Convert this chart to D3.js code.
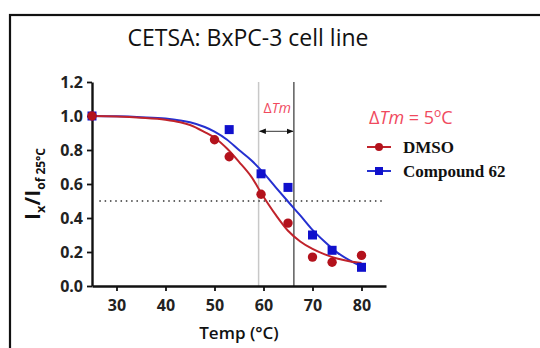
<!DOCTYPE html>
<html>
<head>
<meta charset="utf-8">
<script src="https://cdn.jsdelivr.net/npm/d3@7"></script>
<style>
  body { margin: 0; background: #fff; }
  svg { display: block; }
</style>
</head>
<body>
<div id="chart"></div>
<script>
// measured points
var dmsoTemp = [25, 50, 53, 59.5, 65, 70, 74, 80];
var dmsoVal = [1.0, 0.86, 0.76, 0.54, 0.37, 0.17, 0.14, 0.18];
var cpdTemp = [25, 53, 59.5, 65, 70, 74, 80];
var cpdVal = [1.0, 0.92, 0.66, 0.58, 0.30, 0.21, 0.11];

// fitted curves
var fitTemp = [25, 30, 35, 40, 43, 45, 48, 50, 52.5, 55, 57.5, 60, 62.5, 65, 67.5, 70, 72.5, 75, 77.5, 80];
var dmsoFit = [1.0, 0.997, 0.99, 0.978, 0.963, 0.947, 0.905, 0.872, 0.81, 0.73, 0.643, 0.525, 0.418, 0.325, 0.262, 0.218, 0.186, 0.162, 0.146, 0.135];
var cpdFit = [1.0, 0.998, 0.993, 0.985, 0.974, 0.963, 0.935, 0.908, 0.862, 0.80, 0.74, 0.665, 0.58, 0.497, 0.415, 0.33, 0.26, 0.198, 0.152, 0.115];

var xTicks = [30, 40, 50, 60, 70, 80];
var yTicks = [0, 0.2, 0.4, 0.6, 0.8, 1.0, 1.2];
var tmLines = [59, 66.2];  // Tm of DMSO and compound
var halfLevel = 0.5;
var arrowLevel = 0.91;

var W = 540, H = 348;
var svg = d3.select("#chart").append("svg")
    .attr("width", W).attr("height", H);

// outer frame
svg.append("rect")
    .attr("x", 10).attr("y", 15)
    .attr("width", 560).attr("height", 360)
    .attr("fill", "none").attr("stroke", "#111").attr("stroke-width", 2.2);

var x = d3.scaleLinear().domain([25, 85]).range([92, 386]);
var y = d3.scaleLinear().domain([0, 1.2]).range([286, 82]);

var red = "#b3121c", blue = "#1010cc";
var redLine = "#c0232b", blueLine = "#2530d0";
var pink = "#f04a5e";

// title
svg.append("text")
    .attr("x", 248).attr("y", 46)
    .attr("text-anchor", "middle")
    .style("font-family", "Open Sans")
    .style("font-size", "23px")
    .attr("fill", "#111")
    .text("CETSA: BxPC-3 cell line");

// reference lines
svg.append("line")
    .attr("x1", x(tmLines[0])).attr("x2", x(tmLines[0]))
    .attr("y1", y(1.2)).attr("y2", y(0))
    .attr("stroke", "#c8c8c8").attr("stroke-width", 1.5);
svg.append("line")
    .attr("x1", x(tmLines[1])).attr("x2", x(tmLines[1]))
    .attr("y1", y(1.2)).attr("y2", y(0))
    .attr("stroke", "#444").attr("stroke-width", 1.3);

svg.append("line")
    .attr("x1", x(26.5)).attr("x2", x(84.5))
    .attr("y1", y(halfLevel)).attr("y2", y(halfLevel))
    .attr("stroke", "#333").attr("stroke-width", 1.5)
    .attr("stroke-dasharray", "1.5,3.8");

// double arrow between the two Tm lines
var defs = svg.append("defs");
defs.append("marker").attr("id", "ah")
    .attr("viewBox", "0 0 10 10").attr("refX", 9).attr("refY", 5)
    .attr("markerWidth", 7).attr("markerHeight", 7)
    .attr("orient", "auto-start-reverse")
    .append("path").attr("d", "M0,1 L10,5 L0,9 Z").attr("fill", "#111");
svg.append("line")
    .attr("x1", x(tmLines[0]) + 1).attr("x2", x(tmLines[1]) - 1)
    .attr("y1", y(arrowLevel)).attr("y2", y(arrowLevel))
    .attr("stroke", "#333").attr("stroke-width", 1)
    .attr("marker-start", "url(#ah)").attr("marker-end", "url(#ah)");

var dtm = svg.append("text")
    .attr("x", (x(tmLines[0]) + x(tmLines[1])) / 2 + 1).attr("y", 113)
    .attr("text-anchor", "middle")
    .style("font-family", "Open Sans").style("font-size", "14px")
    .attr("fill", pink);
dtm.append("tspan").text("Δ");
dtm.append("tspan").style("font-style", "italic").text("Tm");

// axes
var xAxis = svg.append("g")
    .attr("transform", "translate(0," + y(0) + ")")
    .call(d3.axisBottom(x).tickValues(xTicks).tickSize(5).tickSizeOuter(0).tickFormat(d3.format("d")));
var yAxis = svg.append("g")
    .attr("transform", "translate(" + x(25) + ",0)")
    .call(d3.axisLeft(y).tickValues(yTicks).tickSize(5).tickSizeOuter(0).tickFormat(d3.format(".1f")));

[xAxis, yAxis].forEach(function (g) {
    g.select(".domain").attr("stroke", "#111").attr("stroke-width", 2.4);
    g.selectAll(".tick line").attr("stroke", "#111").attr("stroke-width", 1.8);
    g.selectAll(".tick text")
        .style("font-family", "Open Sans").style("font-size", "16px")
        .style("font-weight", "bold").attr("fill", "#222");
});
xAxis.selectAll(".tick text").attr("dy", "1.05em");
yAxis.selectAll(".tick text").attr("dx", "-1px");

// axis titles
svg.append("text")
    .attr("x", 239).attr("y", 339)
    .attr("text-anchor", "middle")
    .style("font-family", "Open Sans").style("font-size", "17px")
    .style("font-weight", "600").attr("fill", "#111")
    .text("Temp (°C)");

var ylab = svg.append("text")
    .attr("transform", "translate(40,184) rotate(-90)")
    .attr("text-anchor", "middle")
    .style("font-family", "Open Sans").style("font-weight", "bold")
    .attr("fill", "#111");
ylab.append("tspan").style("font-size", "21px").text("I");
ylab.append("tspan").style("font-size", "13px").attr("dy", 5).text("x");
ylab.append("tspan").style("font-size", "21px").attr("dy", -5).text("/I");
ylab.append("tspan").style("font-size", "12px").attr("dy", 5).text("of 25°C");

// fitted curves
var line = d3.line()
    .x(function (d) { return x(d[0]); })
    .y(function (d) { return y(d[1]); })
    .curve(d3.curveMonotoneX);

svg.append("path")
    .datum(d3.zip(fitTemp, cpdFit))
    .attr("d", line)
    .attr("fill", "none").attr("stroke", blueLine).attr("stroke-width", 2);
svg.append("path")
    .datum(d3.zip(fitTemp, dmsoFit))
    .attr("d", line)
    .attr("fill", "none").attr("stroke", redLine).attr("stroke-width", 2);

// points
svg.append("g").selectAll("rect")
    .data(d3.zip(cpdTemp, cpdVal))
    .enter().append("rect")
    .attr("x", function (d) { return x(d[0]) - 4.5; })
    .attr("y", function (d) { return y(d[1]) - 4.5; })
    .attr("width", 9).attr("height", 9)
    .attr("fill", blue);

svg.append("g").selectAll("circle")
    .data(d3.zip(dmsoTemp, dmsoVal))
    .enter().append("circle")
    .attr("cx", function (d) { return x(d[0]); })
    .attr("cy", function (d) { return y(d[1]); })
    .attr("r", 4.7)
    .attr("fill", red);

// delta Tm note
var note = svg.append("text")
    .attr("x", 369).attr("y", 124)
    .style("font-family", "Open Sans").style("font-size", "18px")
    .attr("fill", pink);
note.append("tspan").text("Δ");
note.append("tspan").style("font-style", "italic").text("Tm");
note.append("tspan").text(" = 5");
note.append("tspan").style("font-size", "12px").attr("dy", -7).text("o");
note.append("tspan").attr("dy", 7).text("C");

// legend
var legend = [
    { name: "DMSO", color: red, lineColor: redLine, shape: "circle", y: 147 },
    { name: "Compound 62", color: blue, lineColor: blueLine, shape: "square", y: 171 }
];
legend.forEach(function (d) {
    var g = svg.append("g");
    g.append("line")
        .attr("x1", 367).attr("x2", 391)
        .attr("y1", d.y).attr("y2", d.y)
        .attr("stroke", d.lineColor).attr("stroke-width", 2);
    if (d.shape === "circle") {
        g.append("circle").attr("cx", 379).attr("cy", d.y).attr("r", 4).attr("fill", d.color);
    } else {
        g.append("rect").attr("x", 375).attr("y", d.y - 4).attr("width", 8).attr("height", 8).attr("fill", d.color);
    }
    g.append("text")
        .attr("x", 403).attr("y", d.y + 6)
        .style("font-family", "Liberation Serif").style("font-size", "17px")
        .style("font-weight", "bold").attr("fill", "#111")
        .text(d.name);
});
</script>
</body>
</html>
